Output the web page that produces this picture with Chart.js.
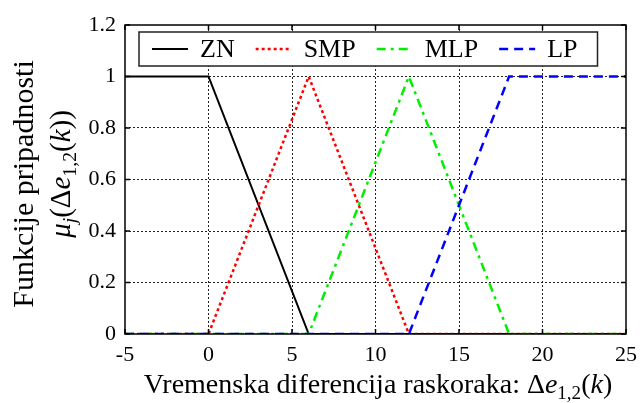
<!DOCTYPE html>
<html>
<head>
<meta charset="utf-8">
<script src="https://cdn.jsdelivr.net/npm/chart.js@4/dist/chart.umd.min.js"></script>
<style>
  html, body { margin: 0; padding: 0; background: #fff; }
  #wrap { width: 640px; height: 403px; }
</style>
</head>
<body>
<div id="wrap"><canvas id="chart"></canvas></div>
<script>
// membership functions, corner points only
const seriesNames = ["ZN", "SMP", "MLP", "LP"];
const znX = [-5, 0, 6, 25];
const znY = [1, 1, 0, 0];
const smpX = [-5, 0, 6, 12, 25];
const smpY = [0, 0, 1, 0, 0];
const mlpX = [-5, 6, 12, 18, 25];
const mlpY = [0, 0, 1, 0, 0];
const lpX = [-5, 12, 18, 25];
const lpY = [0, 0, 1, 1];

const xTicks = [-5, 0, 5, 10, 15, 20, 25];
const yTicks = [0, 0.2, 0.4, 0.6, 0.8, 1, 1.2];
const yTickLabels = ["0", "0.2", "0.4", "0.6", "0.8", "1", "1.2"];

const FONT = '"Liberation Serif", "Times New Roman", serif';

const toPoints = (xs, ys) => xs.map((x, i) => ({ x: x, y: ys[i] }));

// text made of pieces (italic / subscript), centred on x
function drawRich(ctx, parts, size, x, y) {
  let w = 0;
  parts.forEach((p) => {
    const s = p.sub ? size * 0.68 : size;
    ctx.font = (p.it ? "italic " : "") + s + "px " + FONT;
    p.w = ctx.measureText(p.t).width;
    w += p.w;
  });
  let cx = x - w / 2;
  parts.forEach((p) => {
    const s = p.sub ? size * 0.68 : size;
    ctx.font = (p.it ? "italic " : "") + s + "px " + FONT;
    ctx.fillText(p.t, cx, y + (p.sub ? size * 0.22 : 0));
    cx += p.w;
  });
}

const framePlugin = {
  id: "frame",
  afterDatasetsDraw(chart) {
    const { ctx, chartArea: a, scales } = chart;
    ctx.save();
    ctx.strokeStyle = "#000";
    ctx.lineWidth = 1.5;
    ctx.setLineDash([]);
    ctx.strokeRect(a.left, a.top, a.right - a.left, a.bottom - a.top);
    ctx.beginPath();
    xTicks.forEach((v) => {
      const px = scales.x.getPixelForValue(v);
      ctx.moveTo(px, a.top); ctx.lineTo(px, a.top + 5);
      ctx.moveTo(px, a.bottom); ctx.lineTo(px, a.bottom - 5);
    });
    yTicks.forEach((v) => {
      const py = scales.y.getPixelForValue(v);
      ctx.moveTo(a.left, py); ctx.lineTo(a.left + 5, py);
      ctx.moveTo(a.right, py); ctx.lineTo(a.right - 5, py);
    });
    ctx.stroke();

    // legend box
    const lx = a.left + 14, ly = a.top + 7, lh = 34;
    ctx.font = "26px " + FONT;
    let cx = lx + 13;
    const items = chart.data.datasets.map((ds) => {
      const item = { ds: ds, lineX: cx };
      cx += 36 + 12;
      item.textX = cx;
      cx += ctx.measureText(ds.label).width + 21;
      return item;
    });
    const lw = cx - 21 + 20 - lx;
    ctx.fillStyle = "#fff";
    ctx.fillRect(lx, ly, lw, lh);
    ctx.strokeStyle = "#222";
    ctx.lineWidth = 1.5;
    ctx.strokeRect(lx, ly, lw, lh);
    const my = ly + lh / 2;
    items.forEach((it) => {
      ctx.beginPath();
      ctx.strokeStyle = it.ds.borderColor;
      ctx.lineWidth = it.ds.borderWidth;
      ctx.setLineDash(it.ds.borderDash || []);
      ctx.moveTo(it.lineX, my);
      ctx.lineTo(it.lineX + 36, my);
      ctx.stroke();
      ctx.setLineDash([]);
      ctx.fillStyle = "#000";
      ctx.textBaseline = "middle";
      ctx.textAlign = "left";
      ctx.font = "26px " + FONT;
      ctx.fillText(it.ds.label, it.textX, my + 1);
    });
    ctx.restore();
  },
  afterDraw(chart) {
    const { ctx } = chart;
    ctx.save();
    ctx.fillStyle = "#000";
    ctx.textBaseline = "alphabetic";
    ctx.textAlign = "left";
    drawRich(ctx, [
      { t: "Vremenska diferencija raskoraka: Δ" },
      { t: "e", it: true },
      { t: "1,2", sub: true },
      { t: "(" },
      { t: "k", it: true },
      { t: ")" },
    ], 28, 378, 393);

    ctx.save();
    ctx.translate(33, 184);
    ctx.rotate(-Math.PI / 2);
    drawRich(ctx, [{ t: "Funkcije pripadnosti" }], 30, 0, 0);
    ctx.restore();
    ctx.save();
    ctx.translate(70, 174);
    ctx.rotate(-Math.PI / 2);
    drawRich(ctx, [
      { t: "μ", it: true },
      { t: "j", it: true, sub: true },
      { t: "(Δ" },
      { t: "e", it: true },
      { t: "1,2", sub: true },
      { t: "(" },
      { t: "k", it: true },
      { t: "))" },
    ], 29, 0, 0);
    ctx.restore();
    ctx.restore();
  },
};

const gridColor = (ctx) =>
  ctx.index === 0 || ctx.index === ctx.scale.ticks.length - 1 ? "rgba(0,0,0,0)" : "#222";

new Chart(document.getElementById("chart"), {
  type: "line",
  data: {
    datasets: [
      {
        label: seriesNames[0],
        data: toPoints(znX, znY),
        borderColor: "#000000",
        borderWidth: 2,
        order: 4,
      },
      {
        label: seriesNames[1],
        data: toPoints(smpX, smpY),
        borderColor: "#ff0000",
        borderWidth: 2.5,
        borderDash: [3, 3],
        order: 3,
      },
      {
        label: seriesNames[2],
        data: toPoints(mlpX, mlpY),
        borderColor: "#00ee00",
        borderWidth: 2.5,
        borderDash: [9, 5, 3, 5],
        order: 2,
      },
      {
        label: seriesNames[3],
        data: toPoints(lpX, lpY),
        borderColor: "#0000ff",
        borderWidth: 2.5,
        borderDash: [9, 6],
        order: 1,
      },
    ],
  },
  options: {
    responsive: true,
    maintainAspectRatio: false,
    animation: false,
    layout: { padding: { left: 0, right: 14, top: 25, bottom: 0 } },
    elements: { point: { radius: 0 }, line: { tension: 0 } },
    plugins: { legend: { display: false }, tooltip: { enabled: false } },
    scales: {
      x: {
        type: "linear",
        min: -5,
        max: 25,
        afterBuildTicks: (s) => { s.ticks = xTicks.map((v) => ({ value: v })); },
        afterFit: (s) => { s.height = 69; s.paddingRight = 0; s.paddingLeft = 0; },
        grid: { color: gridColor, lineWidth: 1, drawTicks: false },
        border: { display: false, dash: [2, 2] },
        ticks: { color: "#000", font: { family: FONT, size: 22 }, padding: 8, maxRotation: 0 },
      },
      y: {
        min: 0,
        max: 1.2,
        afterBuildTicks: (s) => { s.ticks = yTicks.map((v) => ({ value: v })); },
        afterFit: (s) => { s.width = 125; s.paddingTop = 0; s.paddingBottom = 0; },
        grid: { color: gridColor, lineWidth: 1, drawTicks: false },
        border: { display: false, dash: [2, 2] },
        ticks: {
          color: "#000",
          font: { family: FONT, size: 22 },
          padding: 9,
          callback: (v, i) => yTickLabels[i],
        },
      },
    },
  },
  plugins: [framePlugin],
});
</script>
</body>
</html>
